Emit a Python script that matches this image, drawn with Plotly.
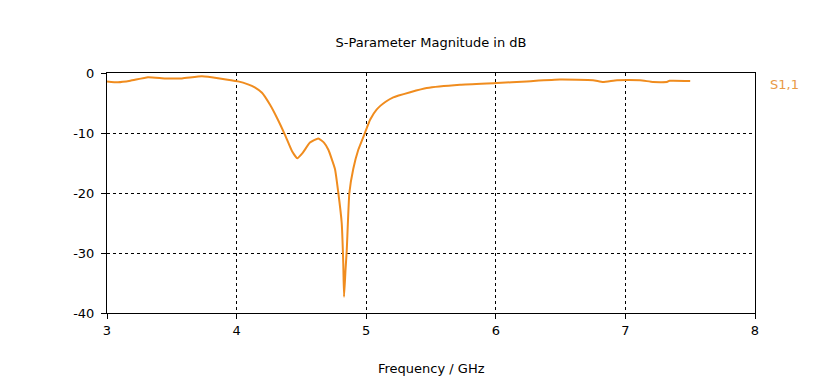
import plotly.graph_objects as go

freq_ghz = [3.0, 3.085, 3.18, 3.316, 3.45, 3.579, 3.733, 3.87, 4.011, 4.088, 4.14, 4.196,
            4.258, 4.312, 4.373, 4.427, 4.468, 4.51, 4.566, 4.63, 4.674, 4.708, 4.759,
            4.785, 4.811, 4.823, 4.829, 4.840, 4.85, 4.87, 4.90, 4.939, 4.99, 5.03, 5.08,
            5.15, 5.209, 5.34, 5.467, 5.724, 6.007, 6.238, 6.495, 6.75, 6.827, 6.935,
            7.113, 7.213, 7.32, 7.34, 7.5]
s11_db = [-1.4, -1.55, -1.3, -0.7, -0.9, -0.9, -0.55, -0.9, -1.4, -1.9, -2.4, -3.3,
          -5.3, -7.5, -10.3, -13.0, -14.2, -13.3, -11.6, -10.9, -11.6, -12.8, -16.0,
          -20.0, -25.0, -31.7, -37.3, -33.0, -29.5, -20.0, -16.0, -12.8, -10.0, -7.8, -6.1,
          -4.8, -4.05, -3.2, -2.5, -1.95, -1.67, -1.4, -1.1, -1.2, -1.5, -1.2,
          -1.2, -1.5, -1.5, -1.3, -1.33]
x_ticks = [3, 4, 5, 6, 7, 8]
y_ticks = [0, -10, -20, -30, -40]
series_name = "S1,1"
line_color = "#F08C1E"

font = "DejaVu Sans"
fsize = 13

# the page body adds an 8px margin; size the figure so the plot lands where it should
W, H = 828, 378

fig = go.Figure()
fig.add_trace(go.Scatter(x=freq_ghz, y=s11_db, mode="lines", name=series_name,
                         line=dict(color=line_color, width=2, shape="spline", smoothing=0.4),
                         showlegend=False))

axis_common = dict(showline=True, linecolor="black", linewidth=1, mirror=True,
                   showgrid=True, gridcolor="black", gridwidth=1, griddash="3px,3px",
                   ticks="outside", ticklen=5, tickcolor="black", automargin=False,
                   tickfont=dict(family=font, size=fsize, color="black"), zeroline=False)

fig.update_xaxes(range=[3, 8], tickvals=x_ticks, **axis_common)
fig.update_yaxes(range=[-40, 0], tickvals=y_ticks, ticktext=[str(v) for v in y_ticks],
                 ticklabelstandoff=4, **axis_common)

fig.update_layout(
    width=W, height=H,
    margin=dict(l=99, r=81, t=65, b=73),
    paper_bgcolor="white", plot_bgcolor="white",
    title=dict(text="S-Parameter Magnitude in dB", x=0.5, xref="paper",
               y=1 - 34 / H, yref="container", yanchor="middle", xanchor="center",
               font=dict(family=font, size=fsize, color="black")),
    annotations=[
        dict(text="Frequency / GHz", xref="paper", yref="paper", x=0.5, y=0,
             yanchor="middle", yshift=-55, showarrow=False,
             font=dict(family=font, size=fsize, color="black")),
        dict(text=series_name, xref="paper", yref="paper", x=1, y=1,
             xanchor="left", yanchor="middle", xshift=13, yshift=-11, showarrow=False,
             font=dict(family=font, size=fsize, color="#E89A46")),
    ],
)

fig.write_html("out.html")
